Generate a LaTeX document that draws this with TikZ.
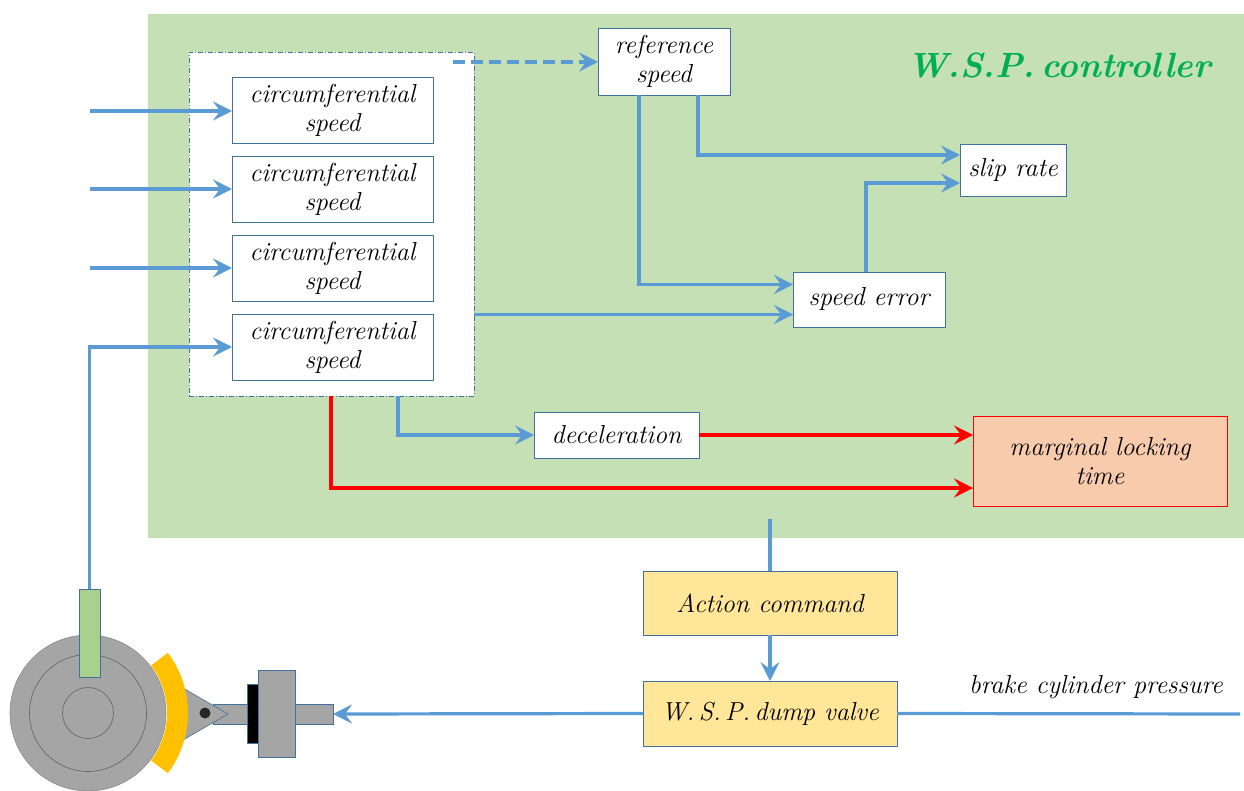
\documentclass[tikz,border=0pt]{standalone}
\usepackage{fontspec}
\usetikzlibrary{arrows.meta,calc}
\definecolor{panelgreen}{HTML}{C5E0B4}
\definecolor{flowblue}{HTML}{5B9BD5}
\definecolor{edgeblue}{HTML}{41719C}
\definecolor{titlegreen}{HTML}{00B050}
\definecolor{alertred}{HTML}{FF0000}
\definecolor{peach}{HTML}{F8CBAD}
\definecolor{sand}{HTML}{FFE699}
\definecolor{steel}{HTML}{A5A5A5}
\definecolor{sensorgreen}{HTML}{A9D18E}
\definecolor{padorange}{HTML}{FFC000}
\newcommand\lblfont{\fontsize{26}{29}\selectfont\itshape\addfontfeatures{LetterSpace=8,FakeBold=0.6}}
\tikzset{
  box/.style={draw=edgeblue, line width=0.7pt, fill=white, align=center,
    inner sep=0pt, outer sep=0pt, anchor=north west, font=\lblfont},
  part/.style={draw=edgeblue, line width=0.6pt, fill=steel,
    inner sep=0pt, outer sep=0pt, anchor=north west},
  flow/.style={draw=flowblue, line width=3.2pt,
    -{Stealth[length=19pt,width=19pt,inset=7pt]}},
  wire/.style={draw=flowblue, line width=3.2pt},
  hot/.style={draw=alertred, line width=3.2pt,
    -{Stealth[length=19pt,width=19pt,inset=7pt]}},
}
\begin{document}
\begin{tikzpicture}[x=1pt,y=-1pt]
\useasboundingbox (0,0) rectangle (1244,791);

% controller panel
\node[fill=panelgreen, inner sep=0pt, outer sep=0pt, anchor=north west,
  minimum width=1096pt, minimum height=524pt] (panel) at (148,14) {};
\node[font=\fontsize{35}{40}\selectfont\bfseries\itshape\addfontfeatures{LetterSpace=2}, text=titlegreen]
  (title) at (1059,65) {W.S.P.\,controller};

% group of wheel-speed channels
\node[draw=edgeblue, line width=0.6pt, dash pattern=on 5pt off 2pt on 1pt off 2pt,
  fill=white, inner sep=0pt, outer sep=0pt, anchor=north west,
  minimum width=285pt, minimum height=344pt] (group) at (189,52) {};
\node[box, minimum width=201pt, minimum height=66pt] (cs1) at (232,77) {circumferential\\speed};
\node[box, minimum width=201pt, minimum height=66pt] (cs2) at (232,156) {circumferential\\speed};
\node[box, minimum width=201pt, minimum height=66pt] (cs3) at (232,235) {circumferential\\speed};
\node[box, minimum width=201pt, minimum height=66pt] (cs4) at (232,314) {circumferential\\speed};

% derived quantities
\node[box, minimum width=132pt, minimum height=67pt] (ref) at (598,28) {reference\\speed};
\node[box, minimum width=106pt, minimum height=52pt] (slip) at (960,144) {slip rate};
\node[box, minimum width=152pt, minimum height=55pt] (err) at (793,272) {speed error};
\node[box, minimum width=165pt, minimum height=46pt] (dec) at (534,412) {deceleration};
\node[box, draw=alertred, fill=peach, minimum width=254pt, minimum height=90pt] (mlt) at (973,416) {marginal locking\\time};

% actuation chain
\node[box, fill=sand, minimum width=254pt, minimum height=64pt] (act) at (643,571) {Action command};
\node[box, fill=sand, minimum width=254pt, minimum height=65pt] (dump) at (643,681) {W.\,S.\,P.\,dump valve};
\node[font=\lblfont, anchor=center] (bcp) at (1096,687) {brake cylinder pressure};

% wheel, brake shoe and cylinder
\filldraw[fill=steel, draw=steel!85!black, line width=0.6pt] (88,713) circle (78);
\draw[steel!60!black, line width=0.6pt] (88,713) circle (58.5);
\draw[steel!60!black, line width=0.6pt] (88,713) circle (25.5);
\node[part, minimum width=34pt, minimum height=20pt] (rodL) at (213,704) {};
\filldraw[fill=steel, draw=edgeblue, line width=0.6pt] (176,684) -- (228,714) -- (176,744) -- cycle;
\fill[padorange] ($(88,713)+(-37:79)$) arc[start angle=-37, end angle=37, radius=79]
  -- ($(88,713)+(37:100)$) arc[start angle=37, end angle=-37, radius=100] -- cycle;
\fill[black!85] (205,713) circle (5.5);
\node[draw=edgeblue, line width=0.6pt, fill=black, inner sep=0pt, outer sep=0pt,
  anchor=north west, minimum width=11pt, minimum height=59pt] (plate) at (247,684) {};
\node[part, minimum width=37pt, minimum height=87pt] (piston) at (258,670) {};
\node[part, minimum width=38pt, minimum height=20pt] (rodR) at (295,704) {};
\node[draw=edgeblue, line width=0.6pt, fill=sensorgreen, inner sep=0pt, outer sep=0pt,
  anchor=north west, minimum width=21pt, minimum height=88pt] (sensor) at (79,589) {};

% signal inputs
\coordinate (in1) at (90,111);
\coordinate (in2) at (90,189);
\coordinate (in3) at (90,268);
\draw[flow] (in1) -- (in1 -| cs1.west);
\draw[flow] (in2) -- (in2 -| cs2.west);
\draw[flow] (in3) -- (in3 -| cs3.west);
\draw[flow] (sensor.north) |- (cs4.west);

% controller connections
\coordinate (dstart) at (453,62);
\draw[flow, dash pattern=on 12pt off 6pt] (dstart) -- (dstart -| ref.west);
\draw[flow] ($(ref.south east)+(-32,0)$) |- ($(slip.west)+(0,-15)$);
\draw[flow] ($(ref.south west)+(41,0)$) |- ($(err.west)+(0,-15)$);
\draw[flow] ($(err.north)+(-3,0)$) |- ($(slip.west)+(0,13)$);
\draw[flow] ($(group.east |- err.west)+(0,15)$) -- ($(err.west)+(0,15)$);
\draw[flow] ($(group.south west)+(209,0)$) |- (dec.west);
\draw[hot] (dec.east) -- (dec.east -| mlt.west);
\draw[hot] ($(group.south west)+(142,0)$) |- ($(mlt.west)+(0,27)$);

% command path to the valve and brake
\coordinate (cmd) at (770,519);
\draw[wire] (cmd) -- (act.north);
\draw[flow] (act.south) -- (dump.north);
\draw[flow] (dump.west) -- (rodR.east);
\coordinate (supply) at (1240,714);
\draw[wire] (dump.east) -- (supply);
\end{tikzpicture}
\end{document}
